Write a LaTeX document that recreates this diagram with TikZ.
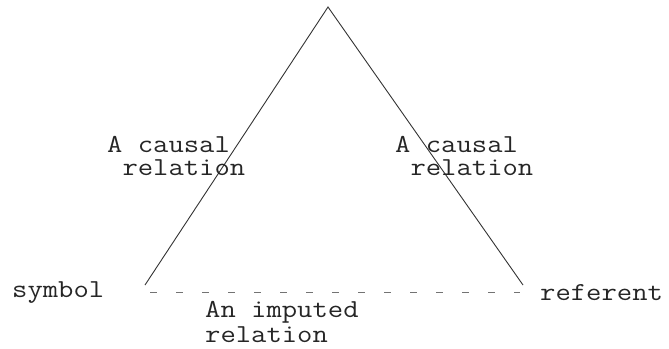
\documentclass[tikz,border=0pt]{standalone}
\usepackage{fontspec}
\newfontfamily\typer{Latin Modern Mono}[FakeStretch=1.15]
\usepackage{tikz}
\usetikzlibrary{positioning,calc}

\begin{document}
\begin{tikzpicture}[
    x=1bp, y=-1bp,
    word/.style={font=\typer\fontsize{26}{23}\selectfont, text=black!85, inner sep=0pt, align=left},
    side/.style={draw=black!80, line width=0.9bp},
    imputed/.style={draw=black!55, line width=0.9bp, dash pattern=on 7bp off 19bp}
]
\useasboundingbox (0,0) rectangle (669,348);

% Corners
\coordinate (apex) at (328,7);
\coordinate (symcorner) at (145,285);
\coordinate (refcorner) at (523,285);
\coordinate (baseL) at (150,292);
\coordinate (baseR) at (520,292);

% Sides
\draw[side] (symcorner) -- (apex) -- (refcorner);
\draw[imputed] (baseL) -- (baseR);

% Labels (base = last line)
\node[word, anchor=base west] (symbol) at (12,297) {symbol};
\node[word, anchor=base west] (referent) at (540,300) {referent};
\node[word, anchor=base west] (causalL) at (107,175) {A causal\\~relation};
\node[word, anchor=base west] (causalR) at (395,175) {A causal\\~relation};
\node[word, anchor=base west, font=\typer\fontsize{26}{25}\selectfont] (imputedrel) at (205,342) {An imputed\\relation};

\end{tikzpicture}
\end{document}
